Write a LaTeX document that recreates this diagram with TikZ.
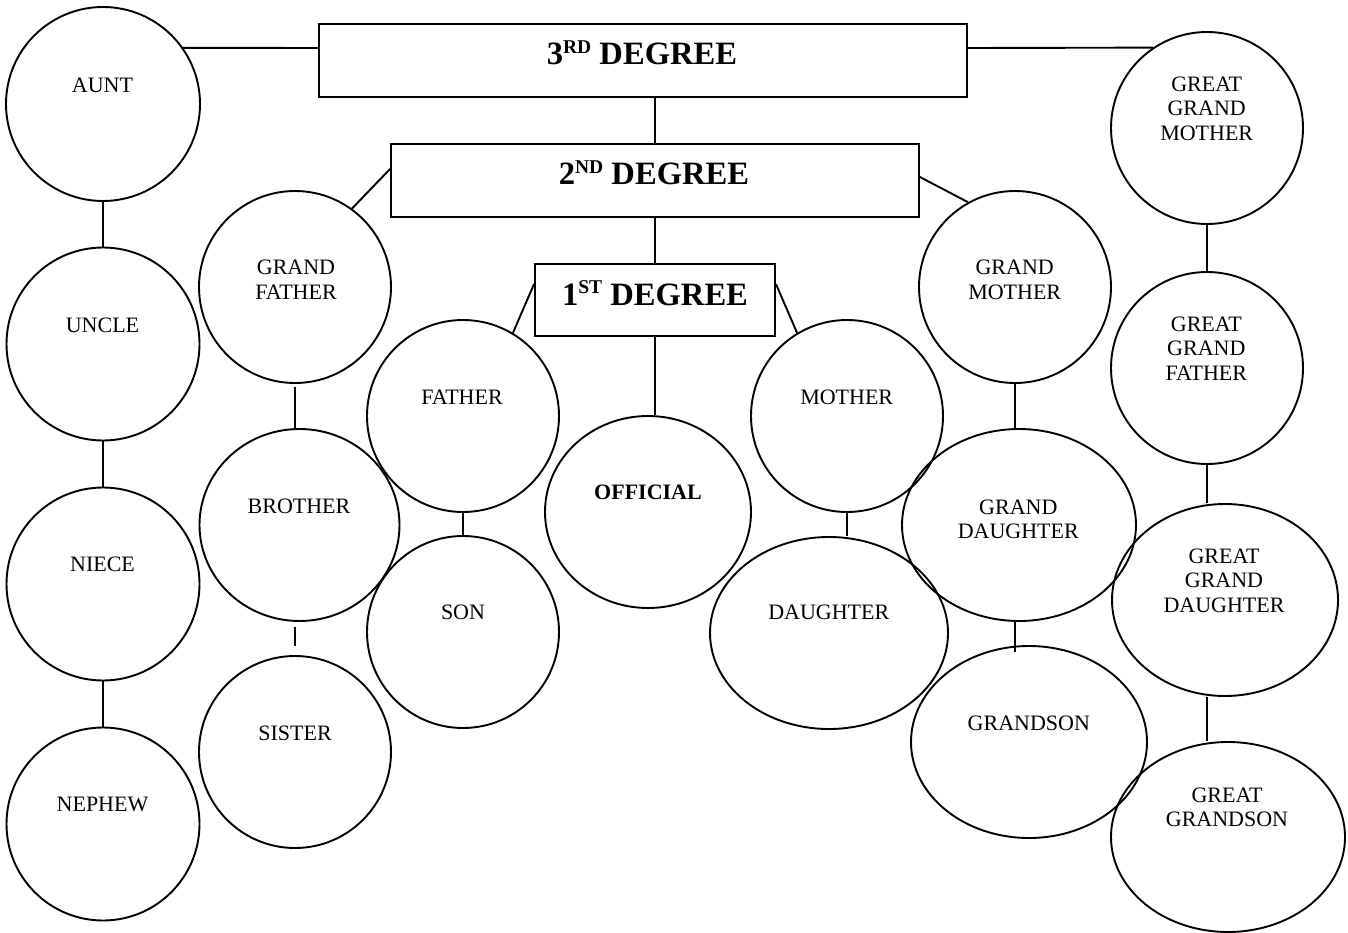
\documentclass[tikz,border=0pt]{standalone}
\usepackage{fontspec}
\setmainfont{Liberation Serif}
\usetikzlibrary{shapes.geometric}
\newcommand\supx[1]{\raisebox{11.5pt}{\fontsize{19.5}{20}\selectfont\bfseries #1}}
\tikzset{
  ln/.style={line width=1.9pt},
  circ/.style={draw, ellipse, line width=1.9pt, inner sep=0pt},
  degbox/.style={draw, rectangle, line width=1.9pt, inner sep=0pt},
  lbl/.style={anchor=north, inner sep=0pt, align=center, font=\fontsize{22}{24.5}\selectfont},
  deglbl/.style={anchor=base, inner sep=0pt, font=\fontsize{32.6}{36}\selectfont\bfseries}
}
\begin{document}
\begin{tikzpicture}[x=1pt,y=-1pt]
\useasboundingbox (0,0) rectangle (1348,933);
% degree boxes
\node[degbox, minimum width=648pt, minimum height=73pt] (deg3) at (643,60.5) {};
\node[degbox, minimum width=528pt, minimum height=73pt] (deg2) at (655,180.5) {};
\node[degbox, minimum width=240pt, minimum height=72pt] (deg1) at (655,300) {};
\node[deglbl] (deg3t) at (642,65) {3\supx{RD} DEGREE};
\node[deglbl] (deg2t) at (654,185) {2\supx{ND} DEGREE};
\node[deglbl] (deg1t) at (655,305) {1\supx{ST} DEGREE};
% circles
\node[circ, minimum width=194pt, minimum height=194pt] (aunt) at (103,104) {};
\node[circ, minimum width=193pt, minimum height=193pt] (uncle) at (103,344) {};
\node[circ, minimum width=193pt, minimum height=193pt] (niece) at (103,584) {};
\node[circ, minimum width=193pt, minimum height=193pt] (nephew) at (103,824) {};
\node[circ, minimum width=192pt, minimum height=192pt] (gfather) at (295,287) {};
\node[circ, minimum width=200pt, minimum height=192pt] (brother) at (299.5,525) {};
\node[circ, minimum width=192pt, minimum height=192pt] (sister) at (295,752) {};
\node[circ, minimum width=192pt, minimum height=192pt] (father) at (463,416) {};
\node[circ, minimum width=192pt, minimum height=192pt] (son) at (463,632) {};
\node[circ, minimum width=206pt, minimum height=192pt] (official) at (648,512) {};
\node[circ, minimum width=192pt, minimum height=192pt] (mother) at (847,416) {};
\node[circ, minimum width=238pt, minimum height=192pt] (daughter) at (829,633) {};
\node[circ, minimum width=192pt, minimum height=192pt] (gmother) at (1015,287) {};
\node[circ, minimum width=234pt, minimum height=192pt] (gdaughter) at (1019,525) {};
\node[circ, minimum width=236pt, minimum height=192pt] (grandson) at (1029,742) {};
\node[circ, minimum width=192pt, minimum height=192pt] (ggm) at (1207,128) {};
\node[circ, minimum width=192pt, minimum height=192pt] (ggf) at (1207,368) {};
\node[circ, minimum width=226pt, minimum height=192pt] (ggd) at (1225,600) {};
\node[circ, minimum width=234pt, minimum height=190pt] (ggs) at (1228,837) {};
% labels
\node[lbl] (auntt) at (102.5,77.3) {AUNT};
\node[lbl] (unclet) at (102.5,317.3) {UNCLE};
\node[lbl] (niecet) at (102.5,556.7) {NIECE};
\node[lbl] (nephewt) at (102.5,797.3) {NEPHEW};
\node[lbl] (gfathert) at (296,260) {GRAND\\FATHER};
\node[lbl] (brothert) at (299,498.3) {BROTHER};
\node[lbl] (sistert) at (295,726) {SISTER};
\node[lbl] (fathert) at (462,389.3) {FATHER};
\node[lbl] (sont) at (463,605) {SON};
\node[lbl, font=\fontsize{22}{24.5}\selectfont\bfseries] (officialt) at (648,485) {OFFICIAL};
\node[lbl] (mothert) at (846.7,389.3) {MOTHER};
\node[lbl] (daughtert) at (828.8,605) {DAUGHTER};
\node[lbl] (gmothert) at (1014.7,260) {GRAND\\MOTHER};
\node[lbl] (gdaughtert) at (1018.3,499.3) {GRAND\\DAUGHTER};
\node[lbl] (grandsont) at (1028.8,716) {GRANDSON};
\node[lbl] (ggmt) at (1206.7,76.7) {GREAT\\GRAND\\MOTHER};
\node[lbl] (ggft) at (1206.3,316.7) {GREAT\\GRAND\\FATHER};
\node[lbl] (ggdt) at (1224,548.3) {GREAT\\GRAND\\DAUGHTER};
\node[lbl] (ggst) at (1227,787.7) {GREAT\\GRANDSON};
% connectors between boxes
\draw[ln] (deg3.south -| deg2.north) -- (deg2.north);
\draw[ln] (deg2.south) -- (deg1.north);
\draw[ln] ([yshift=12.5pt]deg3.west) -- (aunt.35);
\draw[ln] ([yshift=12.5pt]deg3.east) -- (ggm.124);
\draw[ln] ([yshift=11.5pt]deg2.west) -- (gfather.54.5);
\draw[ln] ([yshift=3.5pt]deg2.east) -- (gmother.119);
\draw[ln] ([yshift=16pt]deg1.west) -- (father.59);
\draw[ln] ([yshift=16pt]deg1.east) -- (mother.121);
\draw[ln] (deg1.south) -- (deg1.south |- official.north);
% vertical chains
\draw[ln] (aunt) -- (uncle);
\draw[ln] (uncle) -- (niece);
\draw[ln] (niece) -- (nephew);
\draw[ln, shorten <=3pt] (gfather.south) -- (gfather.south |- brother.north);
\draw[ln, shorten <=5pt, shorten >=9pt] (brother.south -| sister.north) -- (sister.north);
\draw[ln] (father) -- (son);
\draw[ln] (mother.south) -- (mother.south |- daughter.north);
\draw[ln] (gmother.south) -- (gmother.south |- gdaughter.north);
\coordinate (gsend) at ([yshift=-7pt]grandson.north -| gmother.south);
\draw[ln] (gdaughter.south -| gmother.south) -- (gsend);
\draw[ln] (ggm) -- (ggf);
\draw[ln] (ggf.south) -- (ggf.south |- ggd.north);
\draw[ln] (ggd.south -| ggf.south) -- (ggs.north -| ggf.south);
\end{tikzpicture}
\end{document}
